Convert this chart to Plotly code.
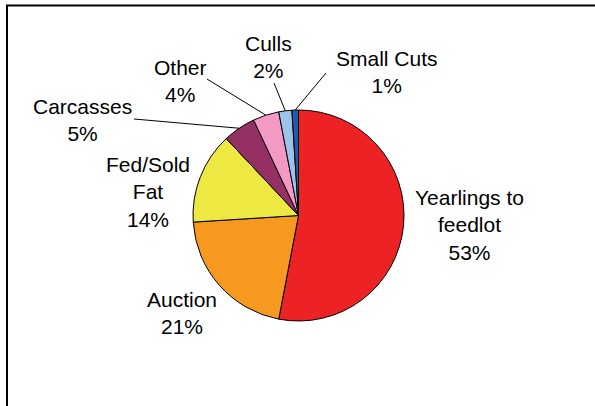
import math
import plotly.graph_objects as go

# Distribution of sales by marketing channel
labels = ["Yearlings to\nfeedlot", "Auction", "Fed/Sold\nFat", "Carcasses", "Other", "Culls", "Small Cuts"]
values = [53, 21, 14, 5, 4, 2, 1]
colors = ["#ED2224", "#F7981F", "#EEE843", "#943063", "#F29AC5", "#9DC3E8", "#1F5BAF"]

W, H = 595, 406
# pie geometry in pixels
CX, CY, R = 298.5, 215.5, 105.5

# label centre positions (pixels) and leader-line start points (None = no leader)
label_pos = [(469, 225), (182, 313), (148, 192), (82, 120), (180, 81), (268, 57), (387, 72)]
leader_start = [None, None, None, (134, 119), (207, 79), (274, 83), (326, 73)]


def px(x):
    return x / W


def py(y):
    return 1 - y / H


fig = go.Figure(go.Pie(
    labels=[l.replace("\n", " ") for l in labels],
    values=values,
    sort=False,
    direction="clockwise",
    rotation=0,
    marker=dict(colors=colors, line=dict(color="black", width=1)),
    textinfo="none",
    hoverinfo="label+percent",
    domain=dict(x=[px(CX - R), px(CX + R)], y=[py(CY + R), py(CY - R)]),
))

total = sum(values)
annotations = []
shapes = []
cum = 0
for lab, v, (lx, ly), start in zip(labels, values, label_pos, leader_start):
    mid = (cum + v / 2) / total * 2 * math.pi
    cum += v
    pct = round(v / total * 100)
    text = lab.replace("\n", "<br>") + f"<br>{pct}%"
    annotations.append(dict(
        x=px(lx), y=py(ly), xref="paper", yref="paper",
        text=text, showarrow=False, xanchor="center", yanchor="middle",
        font=dict(family="Liberation Sans, Arial, sans-serif", size=21, color="black"),
    ))
    if start is not None:
        ex = CX + R * math.sin(mid)
        ey = CY - R * math.cos(mid)
        shapes.append(dict(
            type="line", xref="paper", yref="paper",
            x0=px(start[0]), y0=py(start[1]), x1=px(ex), y1=py(ey),
            line=dict(color="black", width=1),
        ))

# frame around the chart
shapes.append(dict(
    type="rect", xref="paper", yref="paper",
    x0=px(7), y0=py(420), x1=px(620), y1=py(5.5),
    line=dict(color="black", width=2), fillcolor="rgba(0,0,0,0)",
))

fig.update_layout(
    width=W, height=H,
    margin=dict(l=0, r=0, t=0, b=0),
    paper_bgcolor="white", plot_bgcolor="white",
    showlegend=False,
    annotations=annotations,
    shapes=shapes,
)

fig.write_html("out.html")
